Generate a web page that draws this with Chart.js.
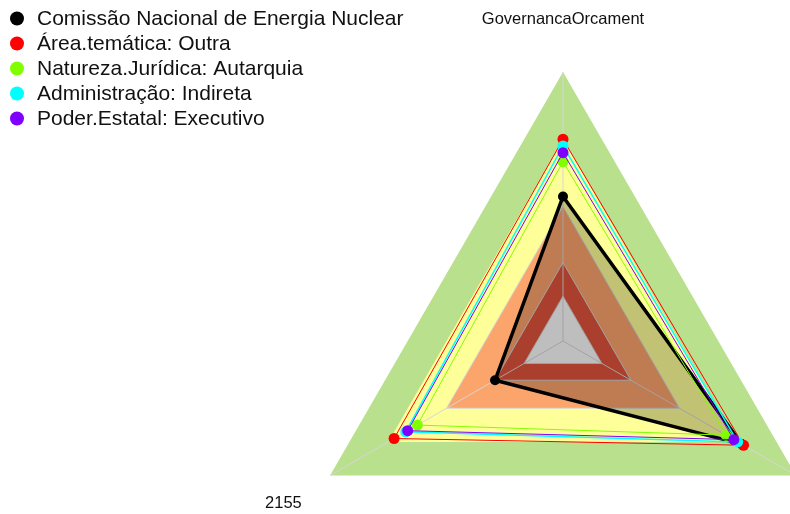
<!DOCTYPE html>
<html>
<head>
<meta charset="utf-8">
<script src="https://cdn.jsdelivr.net/npm/chart.js@4/dist/chart.umd.min.js"></script>
<style>
  html, body { margin: 0; padding: 0; overflow: hidden; background: #ffffff; width: 790px; height: 514px; }
  canvas { display: block; }
</style>
</head>
<body>
<canvas id="radar" width="832" height="610"></canvas>
<script>
// Axes, clockwise from the top
const categories = ['GovernancaOrcament', '', '2155'];

// Series (index values 0..1)
const seriesNames = [
  'Comissão Nacional de Energia Nuclear',
  'Área.temática: Outra',
  'Natureza.Jurídica: Autarquia',
  'Administração: Indireta',
  'Poder.Estatal: Executivo'
];
const comissao         = [0.445, 0.72, 0.15];
const areaTematica     = [0.70, 0.73, 0.67];
const naturezaJuridica = [0.60, 0.64, 0.55];
const administracao    = [0.67, 0.70, 0.61];
const poderEstatal     = [0.64, 0.68, 0.60];

// Reference bands, outermost first
const bandLimits = [1, 0.7, 0.4, 0.15, 0];

const seriesValues = [comissao, areaTematica, naturezaJuridica, administracao, poderEstatal];
const seriesColors = ['#000000', '#FF0000', '#80FF00', '#00FFFF', '#8000FF'];
const bandColors   = ['#B9E08C', '#FFFF99', '#FBA46C', '#DE543A', '#FAFAFA'];
const bandBorders  = ['rgba(0,0,0,0)', 'rgba(0,0,0,0)', '#D6D6D6', '#D6D6D6', '#D6D6D6'];

const bandDatasets = bandLimits.map((lim, i) => ({
  label: 'band' + i,
  data: categories.map(() => lim),
  backgroundColor: bandColors[i],
  borderColor: bandBorders[i],
  borderWidth: 1,
  fill: 'start',
  pointRadius: 0,
  order: 20 - i,
  isCore: i === bandLimits.length - 1
}));

const lineDatasets = seriesValues.map((vals, i) => ({
  label: seriesNames[i],
  data: vals,
  borderColor: seriesColors[i],
  backgroundColor: i === 0 ? 'rgba(0,0,0,0.24)' : 'rgba(0,0,0,0)',
  borderWidth: i === 0 ? 3.5 : (i === 3 ? 1.5 : 1),
  fill: i === 0 ? 'start' : false,
  pointRadius: i === 0 ? 5 : 5.5,
  pointBackgroundColor: seriesColors[i],
  pointBorderWidth: 0,
  order: 5 - i
}));

// Angle lines over the bands, point labels and the legend
const radarDecor = {
  id: 'radarDecor',
  afterDatasetDraw(chart, args) {
    const ds = chart.data.datasets[args.index];
    if (!ds.isCore) return;
    const s = chart.scales.r;
    const ctx = chart.ctx;
    ctx.save();
    ctx.strokeStyle = '#D6D6D6';
    ctx.lineWidth = 1;
    for (let i = 0; i < categories.length; i++) {
      const p = s.getPointPositionForValue(i, s.max);
      ctx.beginPath();
      ctx.moveTo(s.xCenter, s.yCenter);
      ctx.lineTo(p.x, p.y);
      ctx.stroke();
    }
    ctx.restore();
  },
  afterDraw(chart) {
    const s = chart.scales.r;
    const ctx = chart.ctx;
    ctx.save();
    ctx.fillStyle = '#111111';
    ctx.font = '16.5px "Liberation Sans", Arial, sans-serif';
    ctx.textAlign = 'center';
    ctx.textBaseline = 'middle';
    categories.forEach((c, i) => {
      const p = s.getPointPositionForValue(i, 1.24);
      ctx.fillText(c, p.x, p.y + 1);
    });
    ctx.font = '21px "Liberation Sans", Arial, sans-serif';
    ctx.textAlign = 'left';
    seriesNames.forEach((name, i) => {
      const y = 18.5 + i * 25;
      ctx.fillStyle = seriesColors[i];
      ctx.beginPath();
      ctx.arc(17, y, 7, 0, Math.PI * 2);
      ctx.fill();
      ctx.fillStyle = '#111111';
      ctx.fillText(name, 37, y + 1);
    });
    ctx.restore();
  }
};

new Chart(document.getElementById('radar'), {
  type: 'radar',
  data: { labels: categories, datasets: [...lineDatasets, ...bandDatasets] },
  options: {
    responsive: false,
    animation: false,
    layout: { padding: { left: 294, top: 72, right: 0, bottom: 0 } },
    elements: { line: { tension: 0, borderJoinStyle: 'miter' } },
    plugins: { legend: { display: false }, tooltip: { enabled: false } },
    scales: {
      r: {
        min: -0.2,
        max: 1,
        grid: { display: false },
        angleLines: { display: false },
        ticks: { display: false },
        pointLabels: { display: false }
      }
    }
  },
  plugins: [radarDecor]
});
</script>
</body>
</html>
